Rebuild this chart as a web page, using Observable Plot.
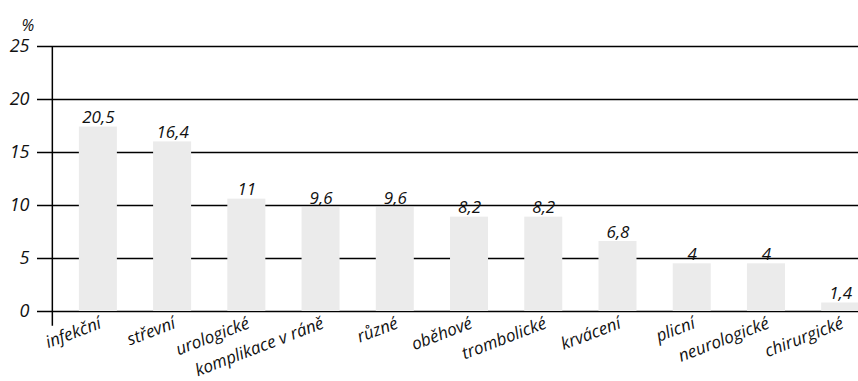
<!DOCTYPE html>
<html><head><meta charset="utf-8">
<script src="https://cdn.jsdelivr.net/npm/d3@7"></script>
<script src="https://cdn.jsdelivr.net/npm/@observablehq/plot@0.6"></script>
<style>body{margin:0;background:#fff}</style>
</head><body><div id="chart"></div>
<script>
const categories = ["infekční","střevní","urologické","komplikace v ráně","různé","oběhové","trombolické","krvácení","plicní","neurologické","chirurgické"];
const barValues = [17.4,16.0,10.6,9.8,9.8,8.9,8.9,6.6,4.5,4.5,0.8];
const valueLabels = ["20,5","16,4","11","9,6","9,6","8,2","8,2","6,8","4","4","1,4"];
const yTicks = [0,5,10,15,20,25];
const unitLabel = "%";

const data = categories.map((c, i) => ({i, c, v: barValues[i], label: valueLabels[i]}));
const barHalf = 0.256;
const axisPos = -0.62;

const chart = Plot.plot({
  width: 858, height: 381,
  marginLeft: 37, marginRight: 0, marginTop: 46, marginBottom: 70,
  style: {fontFamily: "'Open Sans', sans-serif", fontStyle: "italic", fontSize: "17px", color: "#111", background: "#fff", overflow: "visible"},
  x: {type: "linear", domain: [-0.82, 10.24], axis: null},
  y: {domain: [0, 25], axis: null},
  marks: [
    Plot.ruleY(yTicks, {stroke: "#000", strokeWidth: 1.5}),
    Plot.ruleX([axisPos], {y1: -1.4, y2: 25, stroke: "#000", strokeWidth: 1.5}),
    Plot.rectY(data, {x1: d => d.i - barHalf, x2: d => d.i + barHalf, y1: 0, y2: "v", fill: "#ebebeb"}),
    Plot.axisY(yTicks, {anchor: "left", tickSize: 0, tickPadding: 8, label: null, fontSize: 18, tickFormat: d => String(d)}),
    Plot.text(data, {x: "i", y: "v", text: "label", dy: -4, lineAnchor: "bottom", fontSize: 17}),
    Plot.text(data, {x: "i", y: 0, text: "c", rotate: -21, textAnchor: "end", dy: 11, dx: 2, fontSize: 17}),
    Plot.text([unitLabel], {frameAnchor: "top-left", dx: -16, dy: -27, fontSize: 16})
  ]
});
document.getElementById("chart").append(chart);
</script>
</body></html>
